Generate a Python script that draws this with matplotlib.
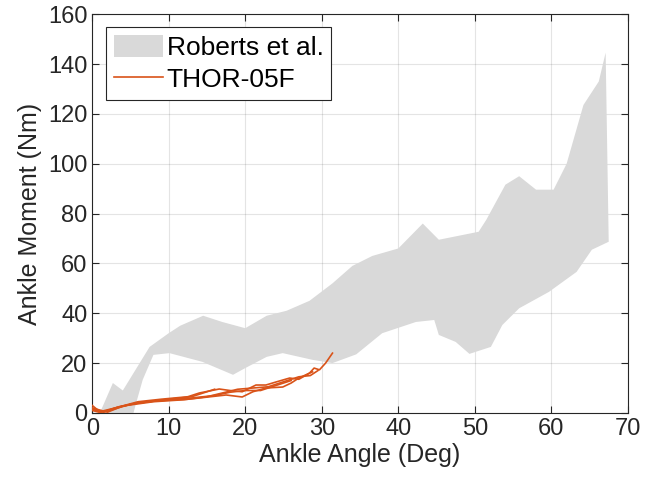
import matplotlib.pyplot as plt
import numpy as np

plt.rcParams['font.family'] = ['Liberation Sans', 'DejaVu Sans']

# Roberts et al. corridor (upper and lower bounds)
upper_x = [1.0, 2.7, 4.0, 7.5, 10.0, 11.5, 14.5, 17.0, 20.0, 22.8, 25.4, 28.4, 31.4, 34.0, 36.6,
           40.0, 43.2, 45.3, 50.5, 51.5, 54.0, 55.8, 58.0, 60.3, 62.0, 64.2, 66.2, 67.1]
upper_y = [0.0, 12.0, 9.0, 26.5, 32.0, 35.0, 39.0, 36.5, 34.0, 39.0, 41.0, 45.0, 52.0, 59.0, 63.0,
           66.0, 76.0, 69.5, 72.7, 77.5, 91.6, 95.0, 89.6, 89.6, 100.0, 123.6, 133.0, 144.6]
lower_x = [1.0, 2.7, 4.0, 5.4, 5.6, 6.6, 8.0, 10.1, 14.4, 18.4, 20.0, 22.8, 24.9, 28.8, 31.4,
           34.5, 37.9, 42.3, 44.7, 45.3, 47.5, 49.3, 52.1, 53.6, 55.8, 59.7, 63.3, 65.3, 67.5]
lower_y = [0.0, 0.0, 0.0, 0.0, 2.4, 13.3, 23.3, 24.0, 20.5, 15.3, 18.0, 22.5, 24.0, 21.3, 20.0,
           23.5, 32.0, 36.5, 37.3, 31.3, 28.5, 23.7, 26.5, 35.3, 42.0, 48.6, 56.6, 65.5, 68.7]

# THOR-05F trials
trial1_x = [0.0, 0.5, 1.5, 3.0, 6.0, 9.0, 12.5, 14.0, 16.6, 18.0, 19.6, 21.4, 22.7, 24.0, 25.8,
            27.0, 28.4, 29.0, 29.7, 30.5, 31.4]
trial1_y = [2.0, 1.0, 0.3, 2.0, 4.5, 5.5, 6.5, 8.0, 9.6, 9.0, 8.5, 11.2, 11.2, 12.4, 14.0,
            13.5, 16.0, 18.0, 17.3, 20.0, 24.0]
trial2_x = [0.0, 1.0, 2.5, 5.0, 8.0, 12.5, 14.0, 17.5, 19.6, 21.0, 22.7, 24.9, 26.0, 27.0, 28.8]
trial2_y = [1.0, 0.2, 1.2, 3.5, 4.8, 5.5, 6.0, 7.2, 6.4, 8.5, 10.0, 10.4, 12.0, 14.0, 16.5]
trial3_x = [0.0, 1.0, 3.0, 6.0, 10.0, 13.0, 16.0]
trial3_y = [3.0, 0.5, 2.0, 4.0, 5.5, 6.5, 9.5]
trial4_x = [0.0, 2.0, 4.0, 8.0, 12.0, 15.0, 17.0, 19.0, 21.0, 23.0, 25.0, 27.0, 28.5, 29.5]
trial4_y = [2.0, 0.3, 2.8, 4.5, 5.3, 6.5, 8.0, 9.5, 10.0, 10.5, 12.5, 14.5, 15.0, 17.0]
trial5_x = [0.0, 1.5, 3.5, 6.0, 9.0, 13.0, 16.0, 18.0, 20.0, 22.0, 24.0, 26.0]
trial5_y = [1.5, 0.5, 2.5, 4.0, 5.0, 6.0, 7.0, 8.3, 9.0, 9.0, 11.0, 13.0]
trials = [(trial1_x, trial1_y), (trial2_x, trial2_y), (trial3_x, trial3_y),
          (trial4_x, trial4_y), (trial5_x, trial5_y)]

fig = plt.figure(figsize=(6.54, 4.91), dpi=100)
ax = fig.add_axes([0.141, 0.159, 0.819, 0.812])

band_x = upper_x + lower_x[::-1]
band_y = upper_y + lower_y[::-1]
ax.fill(band_x, band_y, color='#d9d9d9', linewidth=0, label='Roberts et al.', zorder=1)

orange = '#d95319'
for i, (tx, ty) in enumerate(trials):
    ax.plot(tx, ty, color=orange, linewidth=1.2, zorder=3,
            label='THOR-05F' if i == 0 else None)

ax.set_xlim(0, 70)
ax.set_ylim(0, 160)
ax.set_xticks(np.arange(0, 71, 10))
ax.set_yticks(np.arange(0, 161, 20))
ax.grid(True, color='#262626', alpha=0.12, linewidth=0.8, zorder=0)
ax.set_axisbelow(True)
ax.tick_params(direction='in', top=True, right=True, length=5, labelsize=17,
               colors='#262626', width=0.8)
for s in ax.spines.values():
    s.set_color('#262626')
    s.set_linewidth(0.8)

ax.set_xlabel('Ankle Angle (Deg)', fontsize=18, color='#262626', labelpad=2)
ax.set_ylabel('Ankle Moment (Nm)', fontsize=18, color='#262626', labelpad=4)

leg = ax.legend(loc='upper left', bbox_to_anchor=(0.0256, 0.967), borderaxespad=0,
                fontsize=19, handlelength=1.85, handleheight=0.9, handletextpad=0.15,
                labelspacing=0.25, borderpad=0.3, fancybox=False, framealpha=1)
leg.get_frame().set_edgecolor('#262626')
leg.get_frame().set_linewidth(0.8)

fig.savefig('out.png', dpi=100)
